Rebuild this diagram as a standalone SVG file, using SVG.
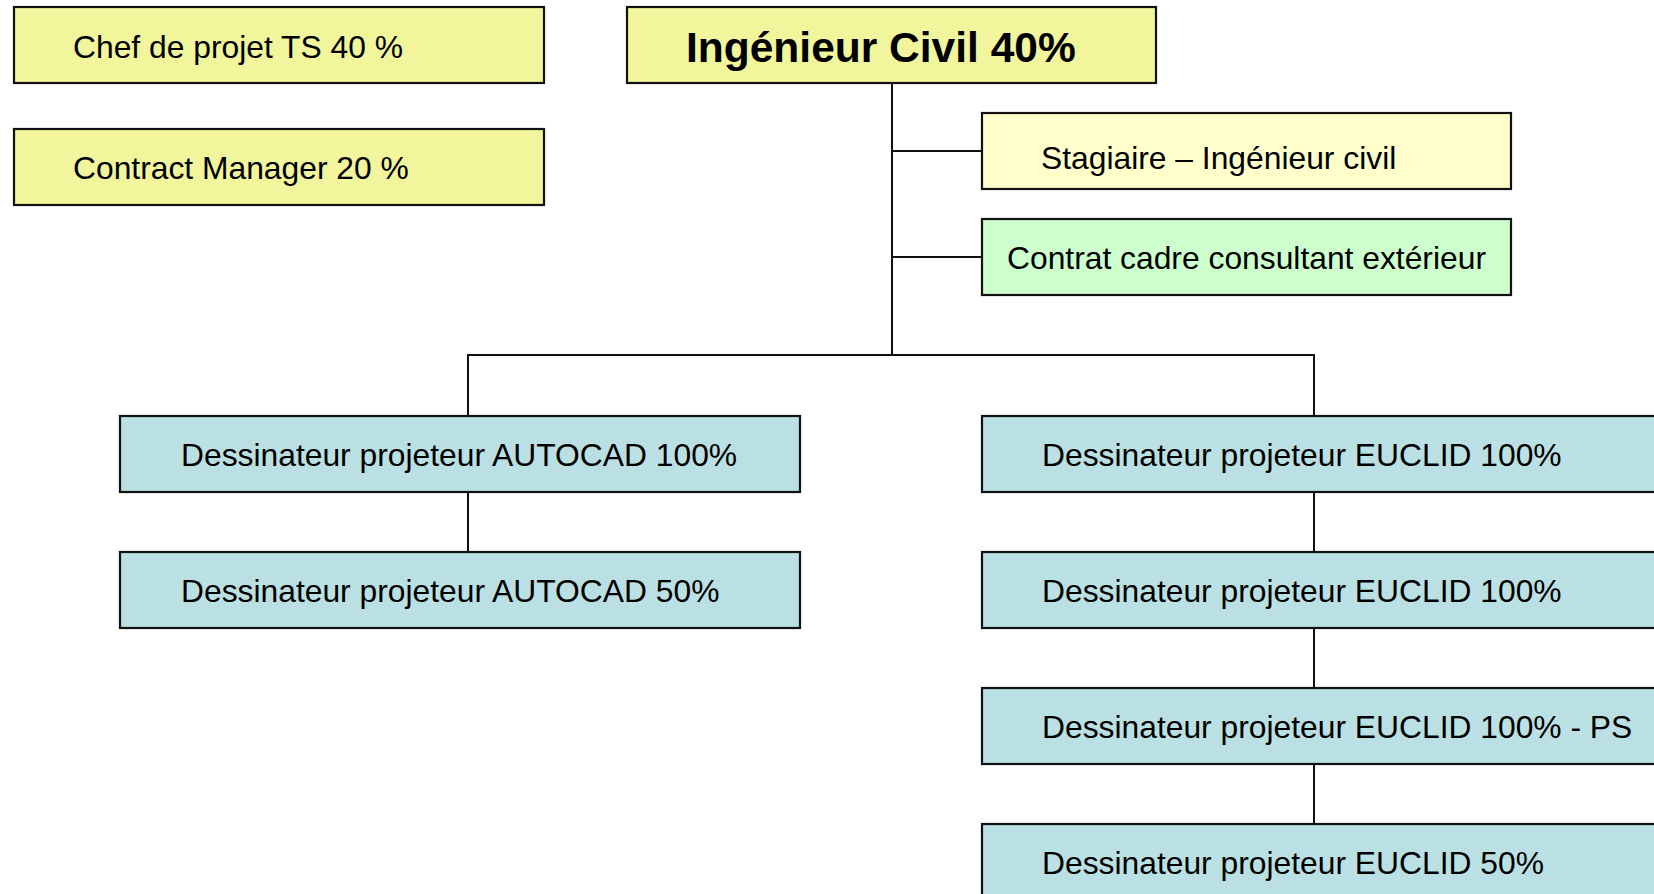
<svg xmlns="http://www.w3.org/2000/svg" width="1654" height="894" viewBox="0 0 1654 894">
<style>
.box{stroke:#111;stroke-width:2.2}
.y{fill:#F1F59B}
.ly{fill:#FFFFCC}
.g{fill:#CCFFCC}
.b{fill:#BBE0E3}
.t{font-family:"Liberation Sans",Arial,sans-serif;font-size:31.8px;fill:#000}
.tb{font-family:"Liberation Sans",Arial,sans-serif;font-size:42.5px;font-weight:bold;fill:#000}
.c{stroke:#111;stroke-width:2;fill:none}
</style>
<rect width="1654" height="894" fill="#fff"/>
<g id="connectors">
<line class="c" x1="892" y1="83" x2="892" y2="355"/>
<line class="c" x1="892" y1="151" x2="982" y2="151"/>
<line class="c" x1="892" y1="257" x2="982" y2="257"/>
<polyline class="c" points="468,416 468,355 1314,355 1314,416"/>
<line class="c" x1="468" y1="492" x2="468" y2="552"/>
<line class="c" x1="1314" y1="492" x2="1314" y2="552"/>
<line class="c" x1="1314" y1="628" x2="1314" y2="688"/>
<line class="c" x1="1314" y1="764" x2="1314" y2="824"/>
</g>
<g id="chef"><rect class="box y" x="14" y="7" width="530" height="76"/><text class="t" x="73" y="58">Chef de projet TS 40 %</text></g>
<g id="contract"><rect class="box y" x="14" y="129" width="530" height="76"/><text class="t" x="73" y="179">Contract Manager 20 %</text></g>
<g id="ingenieur"><rect class="box y" x="627" y="7" width="529" height="76"/><text class="tb" x="686" y="62">Ingénieur Civil 40%</text></g>
<g id="stagiaire"><rect class="box ly" x="982" y="113" width="529" height="76"/><text class="t" x="1041" y="169">Stagiaire – Ingénieur civil</text></g>
<g id="consultant"><rect class="box g" x="982" y="219" width="529" height="76"/><text class="t" x="1007" y="269">Contrat cadre consultant extérieur</text></g>
<g id="autocad100"><rect class="box b" x="120" y="416" width="680" height="76"/><text class="t" x="181" y="466">Dessinateur projeteur AUTOCAD 100%</text></g>
<g id="autocad50"><rect class="box b" x="120" y="552" width="680" height="76"/><text class="t" x="181" y="602">Dessinateur projeteur AUTOCAD 50%</text></g>
<g id="euclid100a"><rect class="box b" x="982" y="416" width="720" height="76"/><text class="t" x="1042" y="466">Dessinateur projeteur EUCLID 100%</text></g>
<g id="euclid100b"><rect class="box b" x="982" y="552" width="720" height="76"/><text class="t" x="1042" y="602">Dessinateur projeteur EUCLID 100%</text></g>
<g id="euclid100ps"><rect class="box b" x="982" y="688" width="720" height="76"/><text class="t" x="1042" y="738">Dessinateur projeteur EUCLID 100% - PS</text></g>
<g id="euclid50"><rect class="box b" x="982" y="824" width="720" height="76"/><text class="t" x="1042" y="874">Dessinateur projeteur EUCLID 50%</text></g>
</svg>
